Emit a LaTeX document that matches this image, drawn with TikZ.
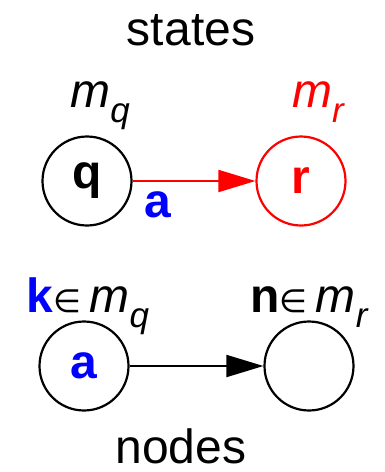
\documentclass[tikz,border=0pt]{standalone}
\usepackage{fontspec}
\setmainfont{Liberation Sans}
\newfontfamily\symfont{DejaVu Sans}
\usetikzlibrary{arrows.meta}
\begin{document}
\begin{tikzpicture}[x=1pt,y=-1pt,
  big/.style={font=\fontsize{48}{52}\selectfont},
  statecirc/.style={circle,draw,line width=2.2pt,minimum size=89pt,inner sep=0pt,big},
  conn/.style={line width=2pt,-{Triangle[length=37pt,width=22pt]}},
  lbl/.style={big,anchor=base,inner sep=0pt}]
\useasboundingbox (0,0) rectangle (385,472);
\newcommand{\msub}[1]{\textit{m\raisebox{-0.33em}{\fontsize{35}{35}\selectfont #1}}}
\newcommand{\elem}{{\symfont\fontsize{32}{32}\selectfont ∈}}
\node[lbl] (st) at (191,45) {states};
\node[lbl] (mq) at (100,107) {\msub{q}};
\node[lbl,text=red] (mr) at (318,107) {\msub{r}};
\node[statecirc] (q) at (87,181) {\textbf{q}};
\node[statecirc,draw=red,text=red] (r) at (301,181) {\textbf{r}};
\draw[conn,red] (q) -- (r);
\node[lbl,text=blue] (la) at (158,217) {\textbf{a}};
\node[lbl] (kq) at (88,312) {\textcolor{blue}{\textbf{k}}\elem\,\msub{q}};
\node[lbl] (nr) at (309,312) {\textbf{n}\elem\,\msub{r}};
\node[statecirc] (a) at (84,366) {\textcolor{blue}{\textbf{a}}};
\node[statecirc] (n) at (309,366) {};
\draw[conn] (a) -- (n);
\node[lbl] (nd) at (181,463) {nodes};
\end{tikzpicture}
\end{document}
